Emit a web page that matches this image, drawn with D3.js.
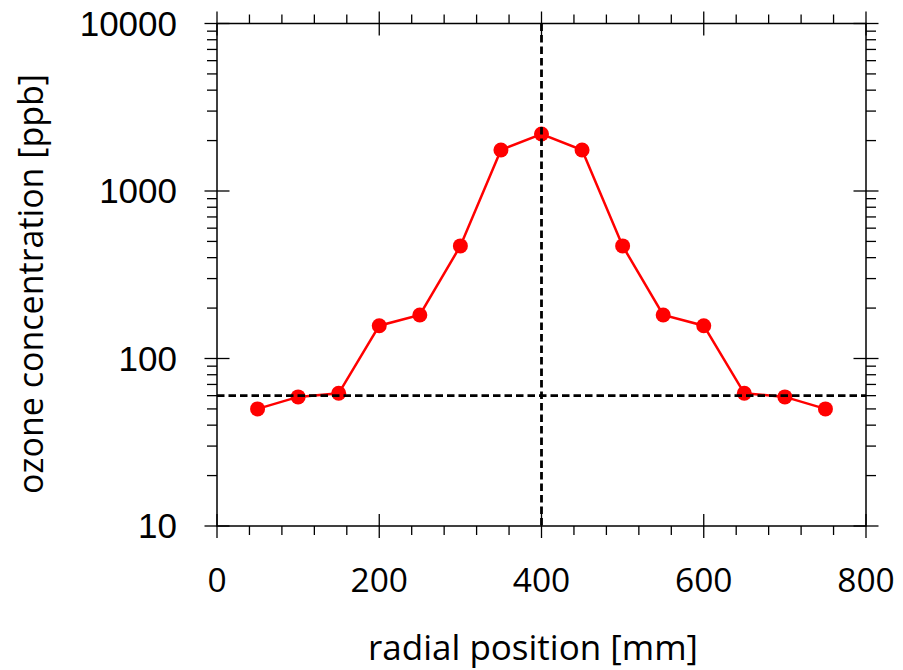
<!DOCTYPE html>
<html><head><meta charset="utf-8">
<script src="https://cdn.jsdelivr.net/npm/d3@7"></script>
<style>body{margin:0;background:#fff}svg{display:block}</style>
</head><body>
<script>
const positions = [50,100,150,200,250,300,350,400,450,500,550,600,650,700,750];
const ozone = [50,59,62,157,182,470,1757,2190,1757,470,182,157,62,59,50];
const thresholdValue = 60;
const centerPosition = 400;
const xTicks = [0,200,400,600,800];
const yTicks = [10,100,1000,10000];
const xTitle = "radial position [mm]";
const yTitle = "ozone concentration [ppb]";

const W = 903, H = 670;
const svg = d3.select("body").append("svg").attr("width",W).attr("height",H);
const x = d3.scaleLinear().domain([0,800]).range([217,866]);
const y = d3.scaleLog().domain([10,10000]).range([526,23.5]);
const x0=x.range()[0], x1=x.range()[1], y0=y.range()[0], y1=y.range()[1];

const g = svg.append("g");
// frame
g.append("rect").attr("x",x0).attr("y",y1).attr("width",x1-x0).attr("height",y0-y1)
 .attr("fill","none").attr("stroke","#000").attr("stroke-width",1.5);

// minor ticks
const xMinor = d3.range(0,801,40).filter(v=>v%200!==0);
const yMinor = [];
[10,100,1000].forEach(d=>{for(let k=2;k<=9;k++) yMinor.push(d*k);});
const tk = g.append("g").attr("stroke","#000").attr("stroke-width",1.3);
xMinor.forEach(v=>{
  tk.append("line").attr("x1",x(v)).attr("x2",x(v)).attr("y1",y0).attr("y2",y0+9);
  tk.append("line").attr("x1",x(v)).attr("x2",x(v)).attr("y1",y1).attr("y2",y1-9);
});
xTicks.forEach(v=>{
  tk.append("line").attr("x1",x(v)).attr("x2",x(v)).attr("y1",y0-12).attr("y2",y0+12);
  tk.append("line").attr("x1",x(v)).attr("x2",x(v)).attr("y1",y1-12).attr("y2",y1+12);
});
yMinor.forEach(v=>{
  tk.append("line").attr("y1",y(v)).attr("y2",y(v)).attr("x1",x0).attr("x2",x0-10);
  tk.append("line").attr("y1",y(v)).attr("y2",y(v)).attr("x1",x1).attr("x2",x1+10);
});
yTicks.forEach(v=>{
  tk.append("line").attr("y1",y(v)).attr("y2",y(v)).attr("x1",x0-12.5).attr("x2",x0+12.5);
  tk.append("line").attr("y1",y(v)).attr("y2",y(v)).attr("x1",x1-12.5).attr("x2",x1+12.5);
});

// tick labels
g.selectAll(".xl").data(xTicks).join("text").attr("class","xl")
 .attr("x",d=>x(d)).attr("y",592).attr("text-anchor","middle")
 .attr("font-family","'Open Sans'").attr("font-size",33.5).attr("fill","#000").text(d=>d);
g.selectAll(".yl").data(yTicks).join("text").attr("class","yl")
 .attr("x",177).attr("y",d=>y(d)+12).attr("text-anchor","end")
 .attr("font-family","'Liberation Sans'").attr("font-size",35).attr("fill","#000").text(d=>d);

// titles
g.append("text").attr("x",533).attr("y",660).attr("text-anchor","middle")
 .attr("font-family","'Open Sans'").attr("font-size",35).attr("fill","#000").text(xTitle);
g.append("text").attr("transform","translate(43,284) rotate(-90)").attr("text-anchor","middle")
 .attr("font-family","'Open Sans'").attr("font-size",34).attr("fill","#000").text(yTitle);

// data
const pts = positions.map((p,i)=>[p,ozone[i]]);
g.append("path").datum(pts).attr("fill","none").attr("stroke","#ff0000").attr("stroke-width",2.5)
 .attr("d",d3.line().x(d=>x(d[0])).y(d=>y(d[1])));
g.selectAll(".pt").data(pts).join("circle").attr("class","pt")
 .attr("cx",d=>x(d[0])).attr("cy",d=>y(d[1])).attr("r",7.5).attr("fill","#ff0000");

// reference lines
g.append("line").attr("x1",x0).attr("x2",x1).attr("y1",y(thresholdValue)).attr("y2",y(thresholdValue))
 .attr("stroke","#000").attr("stroke-width",2.8).attr("stroke-dasharray","7.5,4");
g.append("line").attr("x1",x(centerPosition)).attr("x2",x(centerPosition)).attr("y1",y1).attr("y2",y0)
 .attr("stroke","#000").attr("stroke-width",2.8).attr("stroke-dasharray","7.5,4");
</script>
</body></html>
